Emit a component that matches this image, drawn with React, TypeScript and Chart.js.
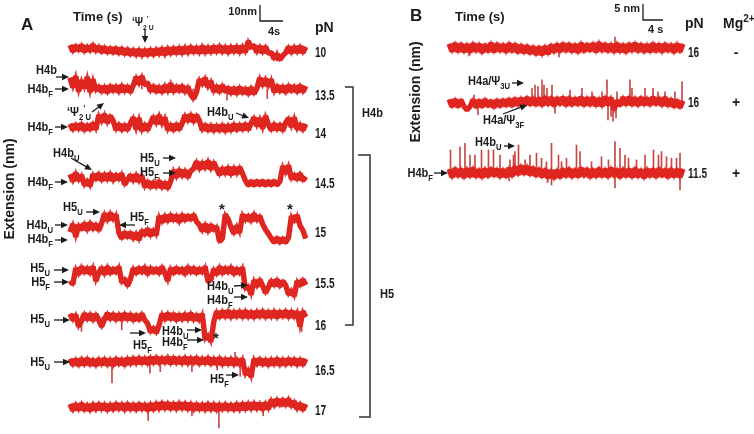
import React, { useEffect, useRef } from 'react';
import { Chart, registerables } from 'chart.js';
Chart.register(...registerables);

const W = 754;
const H = 434;

// ---------- scales (layout) ----------
const A_PX_PER_S = 5.75;
const A_PX_PER_NM = 1.6;
const A_T0_PX = 70;
const B_PX_PER_S = 5;
const B_PX_PER_NM = 3.2;
const B_T0_PX = 449;
const A_STEP = 0.5; // s between samples, panel A
const B_STEP = 0.6; // s between samples, panel B

// ---------- data: panel A (extension in nm, relative to each trace's reference level) ----------
const forcesA = ['10', '13.5', '14', '14.5', '15', '15.5', '16', '16.5', '17'];

const traceA10 = [3, -1, 2.8, -0.5, 3.2, -1.2, 2.5, -0.8, 3.5, -1,
  2.4, -1.5, 2, -1.8, 1.6, -2, 1.5, -2.4, 1.2, -2.8,
  0.8, -3.2, 0.4, -3.6, 0.5, -3.8, 0.3, -3.5, 0.6, -3.4,
  0.8, -3, 1.2, -3.2, 1.5, -2.6, 1.6, -2.4, 1.8, -2.5,
  2, -2.2, 2.3, -1.8, 2, -2.1, 2.6, -2, 2.2, -1.9,
  2.4, -1.6, 2.8, -1.7, 2.3, -2, 2.5, -1.5, 2.6, -1.8,
  2.7, -1.4, 5.5, 1.5, 3, -1.5, 2.4, -1.9, 2.2, -2.2,
  -1.5, -5.5, -2.5, -6, -3.5, -1.8, 2, -2, 2.2, -1.6,
  2.5, -1.8, 2];

const traceA135 = [7, 1, 8, -1.5, 5.5, 0.5, 7.5, -2, 6, -1,
  2, -2, 1.8, -2.4, 2.2, -1.6, 2, -2.2, 2.5, -1.8,
  1.9, -2.1, 2.3, 7.5, 3, 8, 2.5, 4, -1.5, 2.1,
  -2, 1.7, -2.3, 2.4, -1.9, 3.5, -2, 2, -1.6, 2.2,
  -2.2, 1.5, -3.5, -6, -2, 6, 2.5, 7, 1, 5,
  -1.8, 2, -2.1, 2.4, -1.7, 1, -3, 0.8, -3.2, 1.2,
  -2.8, 0.6, -3.4, 1, -3, 0.5, 7, 2, 6.5, 1.5,
  6, -2, 2.2, -1.8, 1.9, -2.3, 2.4, -1.6, 2, -2.1,
  2.3, -1.9, 1.8];

const traceA14 = [2, -2, 1.8, -1.6, 2.2, -2.3, 1.5, -1.9, 2.4, -1.5,
  7.5, 3, 8, 2.5, 7, 4, -1.8, 2, -2.2, 1.6,
  -2, 2.3, 6, -1.5, 5.5, -2.4, 1.9, -2, 2.5, 6.5,
  2, 7.5, 1.5, 6, -2, 1.8, -2.3, 2, -1.7, 2.2,
  7.5, 3.5, 8, 3, 7.5, 4, -2, 1.6, -2.5, 1.3,
  -2.8, 1.2, -2.6, 1.5, -3, 1.4, -2.5, 2, -2.2, 1.8,
  -2, 2.1, -1.8, 2.4, 6, 0.5, 5.5, -1, 7, 1.5,
  -2, 2.2, -1.9, 1.8, -2.3, 2.5, 5.5, 0, 6, -1.5,
  2, -2.2, 1.9];

const traceA145 = [5.5, 1, 6.5, 1.5, 5, -1.5, 1.8, -2, 5.5, 2,
  6, 1.5, 5.8, 1.8, 6.2, 1.2, 5.5, 2, 6, -1,
  2, 5, 1, 5.5, 0.8, 4.8, -2.5, 1.2, -3, 0.8,
  -2.8, 1.5, -3.2, 0.5, -3.5, 1, 8, 3.5, 8.5, 4,
  8, 3.5, 7.5, 9, 13.5, 8.5, 13, 9, 14, 8.5,
  13, 9, 5, 9.5, 5.5, 10, 5, 9.8, 5.5, 10,
  6, 1.5, -1.5, 1.2, -1.6, 1.4, -1.4, 1.5, -1.6, 1.2,
  -1.5, 1.4, -1.3, 1, 10.5, 6, 11, 2.5, 5.5, 2,
  6, 1.5, 4];

const traceA15 = [5, 10, 2, 9.5, 6.5, 10.5, 6, 11, 6.5, 10,
  6, 10.5, 16.5, 12, 17, 12.5, 16, 4.5, 1, 5,
  1.5, 4.8, 0.5, 4.5, 0, 6, 3, 7, 2.5, 6.5,
  3, 15, 11, 15.5, 11.5, 16, 12, 15.5, 11, 16,
  12, 15.5, 12.5, 16, 11.5, 9.5, 5.5, 10, 5, 9.5,
  6, 8.5, -1, 1, 16, 13, 8, 4, 9, 4.5,
  16, 12, 15.5, 11.5, 16.5, 12, 15, 10, 6.5, 4,
  1, -1.5, 1.5, -1.8, 1.2, -1.6, 1.5, 15, 11.5, 15.5,
  9, 6, 1];

const traceA155 = [10, 8, 18, 14, 19, 15, 18.5, 14.5, 19, 10,
  15, 18.5, 14, 19, 14.5, 18, 15, 19, 9, 11.5,
  7, 11, 18, 14.5, 18.5, 15, 19, 14, 18.5, 15,
  18, 14.5, 19, 15, 10, 18, 14.5, 18.5, 15, 18,
  14, 19, 15, 18.5, 14.5, 18, 15, 19, 9.5, 11,
  17.5, 14, 19, 14.5, 18.5, 15, 19, 14, 18, 14.5,
  18.5, 5, 7, 1.5, 10.5, 6.5, 11, 7, 2.5, 6,
  10.5, 7, 11, 6.5, 10, 7.5, 1.5, 4.5, 0.5, 10,
  7, 11, 7.5];

const traceA16 = [2, -2, 1.5, -6, -2.5, 2.2, -1.8, 2, -2.3, 1.8,
  -2, -6, -1.5, 2.4, -1.7, 2.1, -2.2, 1.9, -2, 2.3,
  -1.8, 2, -2.4, 1.6, -2.1, 2.2, -1.9, -4, -9.5, -6.5,
  -10, -5, 2, -2, 2.4, -1.6, 2.1, -2.3, 1.8, -2,
  2.2, -1.9, 2.5, -2.1, 1.7, -2.4, 2, -14, -11, -15.5,
  -3, 3.5, -0.5, 3.8, -0.3, 4, -0.6, 3.6, -0.2, 3.9,
  -0.5, 4, -0.4, 3.5, -0.7, 3.8, -0.2, 4.1, -0.5, 3.6,
  -0.3, 3.9, -0.6, 3.7, -0.1, 4, -0.5, 3.8, -0.4, 3.5,
  -6, 3.6, 0];

const traceA165 = [2, -2, 1.8, -2.2, 2.1, -1.9, 2.3, -2, 1.7, -2.4,
  2, -1.8, 2.2, -2.1, 1.9, -2.3, 2.4, -1.7, 2, -2.2,
  2.5, -1.5, 2.8, -1.3, 3, -1.2, 2.7, -1.4, 3.1, -1,
  3.2, -1.1, 2.9, -0.9, 3.3, -1.2, 3, -1, 2.8, -1.3,
  3.1, -1.4, 2.9, -1, 3, -1.5, 2.6, -1.2, 3, -1.6,
  2.5, -1.5, 2.8, -2, 2.2, -1.8, 2.4, -2.1, 2, -1.9,
  2.1, -8, -4.5, -9.5, 2, -1.8, 2.2, -2, 1.8, -2.3,
  2, -1.9, 2.3, -2.1, 1.9, -2, 2.2, -1.7, 2.1, -2.2,
  1.9, -2, 2];

const traceA17 = [1.8, -2.2, 2, -1.9, 2.3, -2.1, 1.7, -2.4, 2.1, -2,
  2.2, -1.8, 2, -2.3, 1.9, -2, 2.4, -1.7, 2.1, -2.2,
  2.3, -1.9, 2, -2.1, 2.2, -1.8, 1.9, -2.3, 2.1, -2,
  2.6, -1.6, 2.9, -1.4, 2.7, -1.5, 2.5, -1.7, 2.8, -1.4,
  2.6, -1.8, 2.4, -2.1, 2.2, -1.9, 2, -2.2, 2.3, -2,
  2.1, -2.3, 2, -1.9, 2.2, -2, 1.8, -2.1, 2.3, -2,
  2.4, -1.8, 2.6, -1.6, 2.8, -1.5, 2.5, -1.9, 2.7, -1.4,
  4.5, 0.5, 5, 1, 4.8, 0.8, 5.2, 0.2, 3.5, -1.5,
  2.2, -2, 1.8];

const tracesA = [traceA10, traceA135, traceA14, traceA145, traceA15, traceA155, traceA16, traceA165, traceA17];

// brief excursions (time s, extension nm)
const spikeTimesA10 = [31.3, 36];
const spikeValsA10 = [6, -7];
const spikeTimesA135 = [21.4, 27.3, 34.3, 12.5];
const spikeValsA135 = [-8, -7, -6, 6];
const spikeTimesA16 = [2, 5.6, 9, 40.3];
const spikeValsA16 = [-9, -7, -8, -9];
const spikeTimesA165 = [7.3, 13.9, 15.7, 21.2, 25.6, 28.7, 29.6];
const spikeValsA165 = [-13, -7, -6, -6, -5, 6, -9];
const spikeTimesA17 = [13.6, 21.2, 25.9, 33.6, 36.9];
const spikeValsA17 = [-8.5, -5.5, -13, -5.5, 5.5];

// ---------- data: panel B ----------
const forcesB = ['16', '16', '11.5'];
const mgB = ['-', '+', '+'];

const traceB16minus = [1.3, -1.1, 1.5, -1.2, 1.4, -1.3, 1.2, -1.4, 1.5, -1.1,
  1.3, -1.5, 1.1, -1.2, 1.6, -1.3, 1.4, -1.1, 1.2, -1.4,
  1.5, -1.2, 1.3, -1.5, 1, -1.6, 0.8, -1.8, 0.5, -2.1,
  0.4, -2.2, 0.6, -1.9, 1, -1.4, 1.3, -1.2, 1.5, -1.1,
  1.4, -1.3, 1.2, -1.5, 1.6, -1.2, 1.3, -1, 1.5, -1.3,
  1.8, -1.1, 1.4, -1.2, 1.3, -1.4, 1.5, -1.3, 1.2, -1.5,
  1.4, -1.1, 1.6, -1.2, 1.3, -1.4, 1.2, -1.3, 1.5, -1.2,
  1.3, -1.4, 1.4, -1.1, 1.2, -1.5, 1.4, -1.2, 1.3];

const traceB16plus = [0.8, -1.5, 0.9, -1.6, 0.7, -1.4, -2.5, -1.5, 0.8, -1.7,
  0.6, -1.6, 0.9, -1.4, 0.5, -1.8, 0.7, -1.5, 0.8, -1.3,
  1, -1.4, 1.2, -1.1, 1.3, -1.2, 1.5, -1, 1.4, -1.1,
  1.3, -1.2, 1.6, -1, 1.5, -1.3, 1.4, -0.9, 1.6, -1.2,
  1.5, -1.1, 1.3, -1, 1.6, -1.2, 1.4, -1.1, 1.5, -1.3,
  1.2, -1.4, 1.6, -1, 1.4, -2.5, 0.5, -1.2, 1.5, -1,
  1.6, -1.1, 1.4, -1.2, 1.5, -1, 1.3, -1.1, 1.6, -0.9,
  1.4, -1.2, 1.5, -1.3, 1, -1.6, 0.6, -1.8, 0.4];

const traceB115 = [1.2, -1.4, 1.5, -1.1, 1.3, -1.5, 1.4, -1.2, 1.6, -1.3,
  1.1, -1.5, 1.4, -1.2, 1.5, -1, 1.3, -1.4, 1.2, -1.3,
  1.6, -1.1, 2, -0.6, 2.3, -0.4, 2.2, -0.7, 1.8, -1,
  1.4, -1.3, 1.2, -1.6, 0.9, -1.8, 1, -1.5, 1.3, -1.2,
  1.5, -1.4, 1.2, -1.3, 1.6, -1.1, 1.4, -1.5, 1.2, -1.3,
  1.5, -1.2, 1.3, -1.4, 1.6, -1.1, 1.2, -1.5, 1.4, -1.2,
  1.3, -1.4, 1.5, -1.3, 1.1, -1.6, 1.4, -1.2, 1.3, -1.4,
  1.5, -1.1, 1.2, -1.5, 1.4, -1.3, 1.2, -1.4, 1.3];

const tracesB = [traceB16minus, traceB16plus, traceB115];

const spikeTimesB16minus = [4, 22, 33.2];
const spikeValsB16minus = [-2.5, -2.8, 3.4];
const spikeTimesB16plus = [5, 16.6, 17.2, 17.8, 18.6, 19, 19.6, 20.6, 24.2, 26.6, 28.6, 30.6, 31.6, 33.6, 36.2, 36.6,
  39.2, 40.8, 41.8, 43.2, 45.2, 46.6, 5.8, 21.2, 31.8, 32.4, 32.8, 33.4];
const spikeValsB16plus = [2.2, 4.3, 5.3, 4.8, 6.9, 5.3, 4.3, 5.3, 3.75, 4.3, 3.2, 3.2, 6.9, 3.2, 6.9, 4.3,
  4.3, 4.3, 3.2, 3.2, 3.2, 6.4, -4, -3.5, -5.6, -4.5, -6, -5];
const spikeTimesB115 = [0.3, 2.2, 3.2, 4.2, 5.2, 6.5, 7.9, 8.9, 10.2, 12.2, 12.9, 13.2, 13.9, 15.2, 16.2, 17.5, 18.5,
  19.5, 20.5, 21.9, 22.5, 23.5, 25.5, 26.2, 28.5, 30.5, 31.9, 33.2, 34.2, 35.2, 35.9, 37.5, 39.2, 40.9, 41.9,
  42.5, 43.5, 44.5, 45.5, 46.2, 19.7, 20.5, 33.2, 46.2, 12];
const spikeValsB115 = [7.2, 8.2, 9.3, 5.6, 5.6, 7.2, 7.2, 7.2, 5.6, 4.1, 5.6, 6.7, 8.75, 4.1, 5.6, 6.2, 4.6,
  3.5, 9.3, 5.6, 3.5, 4.6, 8.75, 6.7, 3.5, 5.1, 4.1, 9.8, 7.7, 5.6, 4.6, 4.1, 5.6, 7.2, 5.6,
  6.7, 5.1, 4.6, 4.6, 6.2, -3, -3.75, -4.7, -5.3, -2.5];

// ---------- layout (pixel rows of each trace's reference level) ----------
const A_ROW_Y = [50, 89, 127, 183, 240, 297, 317, 362, 407];
const A_FORCE_Y = [52, 95, 133, 183, 232, 283, 325, 370, 410];
const B_ROW_Y = [48, 102, 173];
const B_LABEL_Y = [52, 102, 173];

const TRACE_COLOR = '#e3211c';
const EDGE_COLOR = 'rgba(222, 40, 36, 0.9)';
const SPIKE_COLOR = 'rgba(190, 40, 38, 0.85)';
const INK = '#1b1b1b';
const HEAD = '"Liberation Sans", Arial, Helvetica, sans-serif';

function lineDS(values: number[], step: number, rowY: number, pxPerNm: number, xID: string, yID: string,
  bw: number, join: string, color: string, order: number) {
  const off = (H - rowY) / pxPerNm;
  return {
    type: 'line',
    data: values.map((v, i) => ({ x: i * step, y: off + v })),
    xAxisID: xID,
    yAxisID: yID,
    borderColor: color,
    borderWidth: bw,
    borderJoinStyle: join,
    borderCapStyle: 'butt',
    pointRadius: 0,
    tension: 0,
    fill: false,
    order,
  };
}

function spikeDS(times: number[], vals: number[], rowY: number, pxPerNm: number, xID: string, yID: string) {
  const off = (H - rowY) / pxPerNm;
  return {
    type: 'bar',
    data: times.map((t, i) => ({ x: t, y: vals[i] >= 0 ? [off, off + vals[i]] : [off + vals[i], off] })),
    xAxisID: xID,
    yAxisID: yID,
    backgroundColor: SPIKE_COLOR,
    barThickness: 1,
    grouped: false,
    order: 3,
  };
}

type Seg = { text: string; mode: number };
function parseRich(s: string): Seg[] {
  const out: Seg[] = [];
  let buf = '';
  let i = 0;
  while (i < s.length) {
    const c = s[i];
    if ((c === '_' || c === '^') && s[i + 1] === '{') {
      if (buf) { out.push({ text: buf, mode: 0 }); buf = ''; }
      const end = s.indexOf('}', i + 2);
      out.push({ text: s.slice(i + 2, end), mode: c === '_' ? 1 : 2 });
      i = end + 1;
    } else { buf += c; i++; }
  }
  if (buf) out.push({ text: buf, mode: 0 });
  return out;
}

// rich text with sub/superscripts; sx compresses horizontally (narrow face look)
function drawRich(ctx: any, s: string, x: number, y: number, size: number, weight: string, align: string, sx = 1) {
  const segs = parseRich(s);
  const small = Math.round(size * 0.68);
  const f = (m: number) => `${weight} ${m ? small : size}px ${HEAD}`;
  let total = 0;
  for (const sg of segs) { ctx.font = f(sg.mode); total += ctx.measureText(sg.text).width; }
  total *= sx;
  const x0 = align === 'right' ? x - total : align === 'center' ? x - total / 2 : x;
  ctx.save();
  ctx.translate(x0, y);
  ctx.scale(sx, 1);
  ctx.textAlign = 'left';
  ctx.textBaseline = 'alphabetic';
  let cx = 0;
  for (const sg of segs) {
    ctx.font = f(sg.mode);
    const dy = sg.mode === 1 ? size * 0.3 : sg.mode === 2 ? -size * 0.4 : 0;
    ctx.fillText(sg.text, cx, dy);
    cx += ctx.measureText(sg.text).width;
  }
  ctx.restore();
}

function arrow(ctx: any, x1: number, y1: number, x2: number, y2: number) {
  const head = 7;
  const a = Math.atan2(y2 - y1, x2 - x1);
  const c = Math.cos(a), s = Math.sin(a);
  ctx.beginPath();
  ctx.moveTo(x1, y1);
  ctx.lineTo(x2 - head * 0.7 * c, y2 - head * 0.7 * s);
  ctx.lineWidth = 1.3;
  ctx.stroke();
  ctx.beginPath();
  ctx.moveTo(x2, y2);
  ctx.lineTo(x2 - head * c + 3.2 * s, y2 - head * s - 3.2 * c);
  ctx.lineTo(x2 - head * c - 3.2 * s, y2 - head * s + 3.2 * c);
  ctx.closePath();
  ctx.fill();
}

// annotation texts: [text, x, baselineY, align]
const LABELS: [string, number, number, string][] = [
  ['H4b', 36, 74, 'left'],
  ['H4b_{F}', 53, 93, 'right'],
  ['‘Ψ_{2}^{’}_{U}', 67, 116, 'left'],
  ['H4b_{F}', 53, 131, 'right'],
  ['H4b_{U}', 207, 116, 'left'],
  ['H4b_{U}', 53, 157, 'left'],
  ['H4b_{F}', 53, 186, 'right'],
  ['H5_{U}', 140, 162, 'left'],
  ['H5_{F}', 140, 176, 'left'],
  ['H5_{U}', 63, 211, 'left'],
  ['H5_{F}', 130, 221, 'left'],
  ['H4b_{U}', 53, 229, 'right'],
  ['H4b_{F}', 53, 243, 'right'],
  ['H5_{U}', 50, 272, 'right'],
  ['H5_{F}', 50, 286, 'right'],
  ['H4b_{U}', 207, 290, 'left'],
  ['H4b_{F}', 207, 304, 'left'],
  ['H5_{U}', 50, 323, 'right'],
  ['H5_{F}', 133, 349, 'left'],
  ['H4b_{U}', 162, 335, 'left'],
  ['H4b_{F}', 162, 346, 'left'],
  ['H5_{U}', 50, 366, 'right'],
  ['H5_{F}', 210, 383, 'left'],
  ['H4b', 362, 117, 'left'],
  ['H5', 380, 298, 'left'],
  ['H4a/Ψ_{3U}', 468, 85, 'left'],
  ['H4a/Ψ_{3F}', 483, 124, 'left'],
  ['H4b_{U}', 475, 146, 'left'],
  ['H4b_{F}', 433, 177, 'right'],
];

const ARROWS: [number, number, number, number][] = [
  [145, 29, 145, 43],
  [56, 77, 69, 77],
  [55, 89, 69, 89],
  [92, 112, 104, 103],
  [55, 127, 68, 127],
  [236, 113, 249, 118],
  [71, 158, 92, 170],
  [55, 182, 68, 182],
  [163, 158, 176, 158],
  [163, 173, 176, 173],
  [86, 212, 100, 212],
  [135, 225, 119, 225],
  [55, 225, 68, 225],
  [55, 240, 68, 240],
  [54, 270, 69, 270],
  [54, 282, 69, 282],
  [234, 286, 248, 285],
  [234, 297, 248, 297],
  [54, 320, 70, 320],
  [130, 333, 146, 333],
  [187, 330, 202, 330],
  [187, 340, 204, 340],
  [54, 362, 70, 362],
  [226, 375, 239, 375],
  [512, 83, 524, 83],
  [503, 114, 527, 105],
  [504, 146, 515, 146],
  [434, 173, 448, 173],
];

const STARS: [number, number][] = [[222, 214], [290, 214], [216, 343]];

const annotate = {
  id: 'annotate',
  afterDraw(chart: any) {
    const ctx = chart.ctx;
    const { xa, ya, xb, yb } = chart.scales;
    ctx.save();
    ctx.fillStyle = INK;
    ctx.strokeStyle = INK;

    // panel letters and headers
    drawRich(ctx, 'A', 21, 30, 17, 'bold', 'left');
    drawRich(ctx, 'B', 410, 21, 17, 'bold', 'left');
    drawRich(ctx, 'Time (s)', 73, 21, 13, 'bold', 'left');
    drawRich(ctx, 'Time (s)', 455, 21, 13, 'bold', 'left');
    drawRich(ctx, 'pN', 315, 32, 14, 'bold', 'left');
    drawRich(ctx, 'pN', 685, 28, 14, 'bold', 'left');
    drawRich(ctx, 'Mg^{2+}', 723, 28, 14, 'bold', 'left');
    drawRich(ctx, '‘Ψ_{2}^{’}_{U}', 132, 26, 12, 'bold', 'left', 0.85);

    // y titles
    ctx.save();
    ctx.translate(14, 189);
    ctx.rotate(-Math.PI / 2);
    drawRich(ctx, 'Extension (nm)', 0, 0, 14, 'bold', 'center');
    ctx.restore();
    ctx.save();
    ctx.translate(420, 92);
    ctx.rotate(-Math.PI / 2);
    drawRich(ctx, 'Extension (nm)', 0, 0, 14, 'bold', 'center');
    ctx.restore();

    // scale bars from the scales
    ctx.lineWidth = 1.3;
    const aV = ya.getPixelForValue(0) - ya.getPixelForValue(10);
    const aH = xa.getPixelForValue(4) - xa.getPixelForValue(0);
    ctx.beginPath();
    ctx.moveTo(260, 21 - aV); ctx.lineTo(260, 21); ctx.lineTo(260 + aH, 21);
    ctx.stroke();
    drawRich(ctx, '10nm', 257, 15, 11, 'bold', 'right');
    drawRich(ctx, '4s', 268, 35, 11, 'bold', 'left');
    const bV = yb.getPixelForValue(0) - yb.getPixelForValue(5);
    const bH = xb.getPixelForValue(4) - xb.getPixelForValue(0);
    ctx.beginPath();
    ctx.moveTo(643, 20 - bV); ctx.lineTo(643, 20); ctx.lineTo(643 + bH, 20);
    ctx.stroke();
    drawRich(ctx, '5 nm', 640, 12, 11, 'bold', 'right');
    drawRich(ctx, '4 s', 648, 33, 11, 'bold', 'left');

    // force labels
    forcesA.forEach((f, i) => drawRich(ctx, f, 315, A_FORCE_Y[i] + 5, 14, 'bold', 'left', 0.72));
    forcesB.forEach((f, i) => drawRich(ctx, f, 688, B_LABEL_Y[i] + 5, 14, 'bold', 'left', 0.72));
    mgB.forEach((m, i) => drawRich(ctx, m, 736, B_LABEL_Y[i] + 5, 14, 'bold', 'center'));

    // labels and arrows
    LABELS.forEach(([t, x, y, al]) => drawRich(ctx, t, x, y, 13, 'bold', al, 0.85));
    ARROWS.forEach(([x1, y1, x2, y2]) => arrow(ctx, x1, y1, x2, y2));
    STARS.forEach(([x, y]) => drawRich(ctx, '*', x, y, 15, 'bold', 'center'));

    // brackets
    ctx.strokeStyle = '#333';
    ctx.lineWidth = 1.5;
    ctx.beginPath();
    ctx.moveTo(345, 87); ctx.lineTo(353, 87); ctx.lineTo(353, 325); ctx.lineTo(345, 325);
    ctx.stroke();
    ctx.beginPath();
    ctx.moveTo(358, 155); ctx.lineTo(370, 155); ctx.lineTo(370, 417); ctx.lineTo(359, 417);
    ctx.stroke();
    ctx.restore();
  },
};

export default function App() {
  const ref = useRef<HTMLCanvasElement>(null);
  useEffect(() => {
    const datasets: any[] = [];
    tracesA.forEach((tr, i) => {
      datasets.push(lineDS(tr, A_STEP, A_ROW_Y[i], A_PX_PER_NM, 'xa', 'ya', 5.4, 'bevel', TRACE_COLOR, 2));
      datasets.push(lineDS(tr, A_STEP, A_ROW_Y[i], A_PX_PER_NM, 'xa', 'ya', 3, 'miter', EDGE_COLOR, 1));
    });
    tracesB.forEach((tr, i) => {
      datasets.push(lineDS(tr, B_STEP, B_ROW_Y[i], B_PX_PER_NM, 'xb', 'yb', 5.2, 'bevel', TRACE_COLOR, 2));
      datasets.push(lineDS(tr, B_STEP, B_ROW_Y[i], B_PX_PER_NM, 'xb', 'yb', 2.2, 'miter', EDGE_COLOR, 1));
    });
    datasets.push(spikeDS(spikeTimesA10, spikeValsA10, A_ROW_Y[0], A_PX_PER_NM, 'xa', 'ya'));
    datasets.push(spikeDS(spikeTimesA135, spikeValsA135, A_ROW_Y[1], A_PX_PER_NM, 'xa', 'ya'));
    datasets.push(spikeDS(spikeTimesA16, spikeValsA16, A_ROW_Y[6], A_PX_PER_NM, 'xa', 'ya'));
    datasets.push(spikeDS(spikeTimesA165, spikeValsA165, A_ROW_Y[7], A_PX_PER_NM, 'xa', 'ya'));
    datasets.push(spikeDS(spikeTimesA17, spikeValsA17, A_ROW_Y[8], A_PX_PER_NM, 'xa', 'ya'));
    datasets.push(spikeDS(spikeTimesB16minus, spikeValsB16minus, B_ROW_Y[0], B_PX_PER_NM, 'xb', 'yb'));
    datasets.push(spikeDS(spikeTimesB16plus, spikeValsB16plus, B_ROW_Y[1], B_PX_PER_NM, 'xb', 'yb'));
    datasets.push(spikeDS(spikeTimesB115, spikeValsB115, B_ROW_Y[2], B_PX_PER_NM, 'xb', 'yb'));

    const chart = new Chart(ref.current as HTMLCanvasElement, {
      type: 'line',
      data: { datasets },
      options: {
        responsive: false,
        maintainAspectRatio: false,
        animation: false,
        devicePixelRatio: 1,
        events: [],
        layout: { padding: 0 },
        plugins: { legend: { display: false }, tooltip: { enabled: false }, title: { display: false } },
        scales: {
          xa: { type: 'linear', axis: 'x', display: false, offset: false, min: -A_T0_PX / A_PX_PER_S, max: (W - A_T0_PX) / A_PX_PER_S },
          ya: { type: 'linear', axis: 'y', display: false, min: 0, max: H / A_PX_PER_NM },
          xb: { type: 'linear', axis: 'x', display: false, offset: false, min: -B_T0_PX / B_PX_PER_S, max: (W - B_T0_PX) / B_PX_PER_S },
          yb: { type: 'linear', axis: 'y', display: false, min: 0, max: H / B_PX_PER_NM },
        },
      } as any,
      plugins: [annotate],
    } as any);
    return () => chart.destroy();
  }, []);
  return (
    <div style={{ position: 'absolute', left: 0, top: 0, width: W, height: H, background: '#fff' }}>
      <canvas ref={ref} width={W} height={H} style={{ width: W, height: H, display: 'block' }} />
    </div>
  );
}
